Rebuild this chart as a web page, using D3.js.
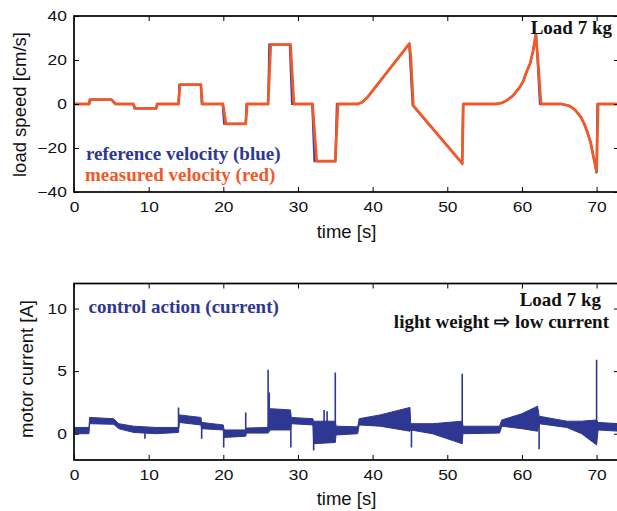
<!DOCTYPE html>
<html><head><meta charset="utf-8">
<script src="https://cdn.jsdelivr.net/npm/d3@7"></script>
<style>body{margin:0;background:#fff}svg{display:block}</style>
</head><body><svg id="c" width="617" height="511"></svg>
<script>
// ---------- data ----------
const xTicks = [0, 10, 20, 30, 40, 50, 60, 70];
const speedTicks = [-40, -20, 0, 20, 40];
const currentTicks = [0, 5, 10];

// reference velocity (blue) [cm/s]
const refT = [0, 2.0, 2.1, 5.0, 5.5, 7.9, 8.1, 11.0, 11.1, 14.0, 14.1, 17.0, 17.1, 19.9, 20.1, 23.0, 23.1, 26.0, 26.15, 28.9, 29.2, 31.9, 32.2, 35.0, 35.2, 38.0, 38.6, 39.3, 44.9, 45.35, 52.0, 52.1, 56.5, 57.3, 57.9, 58.8, 59.7, 60.2, 60.6, 61.1, 61.5, 61.9, 62.4, 65.3, 66.3, 66.8, 67.2, 67.9, 68.3, 68.7, 69.2, 69.6, 70.0, 70.1, 73];
const refV = [0, 0, 2, 2, 0, 0, -2, -2, 0, 0, 8.8, 8.8, 0, 0, -9, -9, 0, 0, 27, 27, 0, 0, -26, -26, 0, 0, 0.8, 3.0, 27.3, -0.5, -27, 0, 0, 0.5, 1.5, 3.8, 7.6, 10.5, 14.4, 18.5, 24.2, 32, 0, 0, -0.8, -1.8, -3.0, -6.0, -8.7, -12.1, -17.5, -24.3, -31.5, 0, 0];

// measured velocity (red) [cm/s]
const measT = [0, 2.05, 2.2, 5.0, 5.6, 7.95, 8.2, 11.0, 11.2, 14.0, 14.2, 17.0, 17.2, 19.95, 20.35, 23.0, 23.2, 26.0, 26.35, 29.0, 29.45, 31.95, 32.5, 35.0, 35.35, 38.0, 38.6, 39.3, 44.9, 45.1, 45.45, 52.0, 52.15, 56.5, 57.3, 57.9, 58.8, 59.7, 60.2, 60.6, 61.1, 61.5, 61.85, 62.1, 62.55, 65.3, 66.3, 66.8, 67.2, 67.9, 68.3, 68.7, 69.2, 69.6, 70.0, 70.2, 73];
const measV = [0, 0, 2, 2, 0, 0, -2, -2, 0, 0, 8.8, 8.8, 0, 0, -9, -9, 0, 0, 27, 27, 0, 0, -26, -26, 0, 0, 0.8, 3.0, 27.3, 22, -0.8, -27, 0, 0, 0.5, 1.5, 3.8, 7.6, 10.5, 14.4, 18.5, 24.2, 31.5, 22, 0, 0, -0.8, -1.8, -3.0, -6.0, -8.7, -12.1, -17.5, -24.3, -30.5, 0, 0];

// motor current [A]: noise envelope (low / high)
const curT  = [0, 2.0, 2.1, 5.3, 6.0, 8.0, 11.0, 14.0, 14.1, 17.0, 17.1, 20.0, 20.1, 23.0, 23.1, 26.0, 26.3, 29.0, 29.1, 32.0, 32.1, 35.0, 35.1, 38.0, 38.2, 41.0, 45.0, 45.1, 48.0, 52.0, 52.1, 57.0, 57.3, 60.0, 62.1, 62.3, 66.0, 68.0, 70.0, 70.2, 73];
const curLo = [0.0, 0.0, 0.8, 0.75, 0.4, 0.1, 0.0, 0.1, 0.9, 0.7, 0.4, 0.3, -0.3, -0.2, 0.05, 0.05, 0.3, 0.3, 0.8, 0.7, -0.8, -0.7, -0.1, 0.0, 0.7, 0.6, 0.2, 0.3, 0.0, -0.8, 0.0, 0.05, 0.6, 0.4, 0.2, 0.8, 0.5, 0.0, -0.9, 0.3, 0.2];
const curHi = [0.5, 0.5, 1.3, 1.2, 0.8, 0.6, 0.5, 0.5, 1.5, 1.3, 0.9, 0.7, 0.3, 0.3, 0.45, 0.5, 2.0, 1.9, 1.3, 1.2, 1.0, 1.0, 0.6, 0.55, 1.2, 1.5, 2.1, 0.8, 0.8, 1.0, 0.6, 0.6, 1.1, 1.6, 2.2, 1.4, 1.0, 1.0, 1.1, 0.9, 0.8];
// current spikes
const spikeT    = [9.5, 14.0, 17.1, 20.05, 23.0, 26.0, 26.15, 29.05, 32.1, 33.5, 33.9, 35.0, 45.2, 52.0, 62.3, 70.0];
const spikeBase = [0.3, 0.5, 0.7, 0.4, 0.3, 0.3, 0.8, 1.0, 0.9, 0.5, 0.5, 0.5, 0.8, 0.3, 1.0, 0.5];
const spikeV    = [-0.4, 2.1, -0.4, -1.1, 1.7, 5.1, 3.3, -1.1, -1.35, 1.9, 1.8, 4.9, -1.1, 4.8, -1.25, 5.9];

// ---------- drawing ----------
const BLUE = "#2e3792", RED = "#f05a28", LBLUE = "#3a40a8";
const svg = d3.select("#c");
const X0 = 74, X1 = 619;
const x = d3.scaleLinear().domain([0, 73]).range([X0, X1]);
const yS = d3.scaleLinear().domain([-40, 40]).range([192, 16]);
const yC = d3.scaleLinear().domain([-2.1, 12]).range([460, 283.5]);

const tickFont = "'Liberation Sans', Arial, Helvetica, sans-serif";
const serif = "'Liberation Serif', 'Times New Roman', Times, serif";

function clip(id, y0, y1) {
  svg.append("clipPath").attr("id", id).append("rect")
    .attr("x", X0).attr("y", y0).attr("width", X1 - X0).attr("height", y1 - y0);
}
clip("cp1", 16, 192);
clip("cp2", 283.5, 460);

function axes(yScale, yTicks, y0, y1) {
  const g = svg.append("g");
  const styleTicks = sel => {
    sel.select(".domain").remove();
    sel.selectAll(".tick line").attr("stroke", "#000").attr("stroke-width", 1);
    sel.selectAll(".tick text").attr("font-family", tickFont)
      .attr("fill", "#111").attr("transform", "scale(1.2,1)");
  };
  g.append("g").attr("transform", `translate(0,${y1})`)
    .call(d3.axisBottom(x).tickValues(xTicks).tickSize(-5).tickPadding(10)).call(styleTicks);
  g.append("g").attr("transform", `translate(0,${y0})`)
    .call(d3.axisTop(x).tickValues(xTicks).tickSize(-5).tickFormat("")).call(styleTicks);
  g.append("g").attr("transform", `translate(${X0},0)`)
    .call(d3.axisLeft(yScale).tickValues(yTicks).tickSize(-5).tickPadding(6)).call(styleTicks);
  g.append("g").attr("transform", `translate(${X1},0)`)
    .call(d3.axisRight(yScale).tickValues(yTicks).tickSize(-5).tickFormat("")).call(styleTicks);
  g.selectAll("g").attr("font-size", 14.5);
  g.append("rect").attr("x", X0).attr("y", y0).attr("width", X1 - X0).attr("height", y1 - y0)
    .attr("fill", "none").attr("stroke", "#000").attr("stroke-width", 1.7);
}

// ---- top panel ----
const lineS = (T, V) => d3.line().x((d, i) => x(T[i])).y((d, i) => yS(V[i]))(T);
const p1 = svg.append("g").attr("clip-path", "url(#cp1)");
p1.append("path").attr("d", lineS(refT, refV)).attr("fill", "none")
  .attr("stroke", LBLUE).attr("stroke-width", 2);
p1.append("path").attr("d", lineS(measT, measV)).attr("fill", "none")
  .attr("stroke", RED).attr("stroke-width", 2.8).attr("stroke-linejoin", "round");
axes(yS, speedTicks, 16, 192);

// ---- bottom panel ----
const p2 = svg.append("g").attr("clip-path", "url(#cp2)");
const band = d3.area().x((d, i) => x(curT[i])).y0((d, i) => yC(curLo[i])).y1((d, i) => yC(curHi[i]));
p2.append("path").attr("d", band(curT)).attr("fill", BLUE).attr("stroke", BLUE)
  .attr("stroke-width", 1).attr("stroke-linejoin", "round");
p2.selectAll("line.spike").data(spikeT).join("line").attr("class", "spike")
  .attr("x1", d => x(d)).attr("x2", d => x(d))
  .attr("y1", (d, i) => yC(spikeBase[i])).attr("y2", (d, i) => yC(spikeV[i]))
  .attr("stroke", BLUE).attr("stroke-width", 1.6);
axes(yC, currentTicks, 283.5, 460);

// ---- titles ----
const title = (t, tx, ty, rot) => svg.append("text").text(t)
  .attr("transform", `translate(${tx},${ty})` + (rot ? " rotate(-90)" : ""))
  .attr("text-anchor", "middle").attr("font-family", tickFont).attr("font-size", 18.5).attr("fill", "#111");
title("time [s]", x(36.5), 238, false);
title("time [s]", x(36.5), 505, false);
title("load speed [cm/s]", 26, 104.5, true);
title("motor current [A]", 33, 369, true);

// ---- annotations ----
const note = (t, tx, ty, col, anchor) => svg.append("text").text(t).attr("x", tx).attr("y", ty)
  .attr("text-anchor", anchor || "start").attr("font-family", serif).attr("font-weight", "bold")
  .attr("font-size", 19).attr("fill", col);
note("Load 7 kg", 612, 34, "#111", "end");
note("reference velocity (blue)", 86, 160, BLUE);
note("measured velocity (red)", 85, 180.5, RED);
note("control action (current)", 88.5, 313, BLUE);
note("Load 7 kg", 601, 306, "#111", "end");
note("light weight \u21E8 low current", 609, 328, "#111", "end");
</script></body></html>
